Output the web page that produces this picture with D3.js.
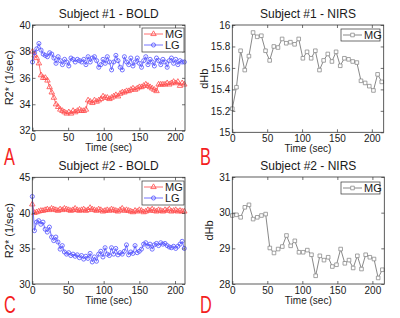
<!DOCTYPE html>
<html><head><meta charset="utf-8">
<script src="https://cdn.jsdelivr.net/npm/d3@7"></script>
<style>
body{margin:0;background:#fff}
svg{display:block}
text{font-family:"Liberation Sans",Arial,sans-serif;fill:#1a1a1a}
</style>
</head><body>
<svg id="c" width="400" height="318"></svg>
<script>
// ---------- data ----------
const xTicks = [0, 50, 100, 150, 200];
const yTicksA = [32, 34, 36, 38, 40];
const yTicksB = [15, 15.2, 15.4, 15.6, 15.8, 16];
const yTicksC = [30, 35, 40, 45];
const yTicksD = [28, 29, 30, 31];
const boldStep = 3;      // sec between BOLD samples
const nirsStep = 5.95;   // sec between NIRS samples

const s1MG = [38.0,37.7,37.5,37.1,36.2,36.0,36.0,35.8,35.3,34.9,34.5,34.0,33.8,33.6,33.5,33.4,33.3,33.4,33.3,33.5,33.4,33.5,33.6,33.5,33.5,33.6,34.3,34.2,34.1,34.3,34.2,34.3,34.4,34.6,34.5,34.5,34.4,34.5,34.6,34.7,34.6,34.8,34.9,34.9,35.0,35.0,35.1,35.2,35.1,35.2,35.3,35.3,35.4,35.5,35.4,35.3,35.2,35.1,35.0,35.5,35.5,35.5,35.5,35.6,35.5,35.6,35.7,35.6,35.7,35.4,35.6,35.5];
const s1LG = [37.2,37.9,38.2,38.6,38.1,37.8,37.7,37.6,37.9,37.8,37.5,37.1,37.6,37.3,37.0,37.4,37.2,36.9,37.5,37.4,37.2,37.4,37.3,37.2,37.4,37.0,37.6,37.2,37.5,37.6,37.3,36.8,37.0,37.4,37.1,37.6,37.2,36.6,37.2,37.7,37.3,36.8,36.6,37.6,37.2,37.0,37.5,36.9,37.2,37.5,37.1,36.8,37.3,37.6,37.0,37.4,37.2,36.9,37.5,37.3,37.0,37.4,37.2,36.8,37.3,37.5,37.1,37.4,37.0,37.3,37.2,37.2];
const s1NIRS = [15.22,15.42,15.76,15.58,15.71,15.93,15.89,15.90,15.76,15.67,15.80,15.79,15.87,15.83,15.84,15.82,15.87,15.69,15.75,15.69,15.76,15.58,15.67,15.73,15.66,15.75,15.62,15.69,15.68,15.66,15.65,15.48,15.46,15.43,15.39,15.54,15.47];
const s2MG = [41.2,40.0,40.1,40.2,40.3,40.3,40.4,40.5,40.4,40.6,40.5,40.4,40.3,40.5,40.4,40.6,40.5,40.4,40.3,40.4,40.6,40.4,40.3,40.4,40.5,40.3,40.4,40.7,40.5,40.4,40.3,40.5,40.4,40.2,40.3,40.4,40.3,40.5,40.4,40.3,40.2,40.4,40.6,40.3,40.4,40.3,40.2,40.1,40.3,40.2,40.4,40.3,40.1,40.2,40.4,40.3,40.5,40.3,40.2,40.4,40.3,40.2,40.4,40.3,40.5,40.2,40.3,40.4,40.2,40.3,40.2,40.2];
const s2LG = [42.3,37.5,38.7,38.9,38.4,38.7,37.7,37.3,38.0,36.6,36.1,36.6,35.9,34.9,35.4,34.5,34.2,34.4,34.0,34.2,33.9,34.1,33.7,34.0,33.5,33.9,33.6,34.3,33.1,33.8,33.2,34.2,34.6,33.8,35.1,34.2,34.0,35.1,34.2,35.0,34.1,34.4,34.2,34.6,35.5,34.1,34.5,34.3,35.4,34.4,34.6,34.9,35.6,35.8,35.3,35.6,34.9,35.5,35.7,35.4,35.8,35.6,35.7,35.4,35.2,35.1,35.3,35.0,35.3,35.6,36.0,35.0];
const s2NIRS = [29.92,29.94,29.87,30.15,30.22,29.82,29.87,29.92,29.96,29.01,28.87,28.98,29.05,29.36,29.07,29.21,28.89,28.89,28.95,28.82,28.23,28.79,28.67,28.75,28.49,28.54,28.98,28.58,28.67,28.45,28.79,28.42,28.82,28.75,28.70,28.17,28.40];

// ---------- styles ----------
const RED = "#ff4a4a", BLUE = "#5050ff", GRAY = "#6a6a6a", MGRAY = "#8c8c8c";

const svg = d3.select("#c");

function panel(o) {
  const x = d3.scaleLinear().domain(o.xDomain).range([o.x0, o.x1]);
  const y = d3.scaleLinear().domain(o.yDomain).range([o.y1, o.y0]);
  const g = svg.append("g");
  const fmt = d => String(+d.toFixed(1));

  // series
  o.series.forEach(s => {
    const pts = s.values.map((v, i) => [i * s.step, v]);
    g.append("path").datum(pts)
      .attr("fill", "none").attr("stroke", s.line).attr("stroke-width", 0.8)
      .attr("d", d3.line().x(d => x(d[0])).y(d => y(d[1])));
    const sym = d3.symbol().type(s.sym).size(s.size);
    g.selectAll(null).data(pts).enter().append("path")
      .attr("d", sym)
      .attr("transform", d => `translate(${x(d[0])},${y(d[1])})`)
      .attr("fill", s.fill).attr("stroke", s.mk).attr("stroke-width", 0.8);
  });

  // axes (inward ticks on all sides)
  const ax = g.append("g").attr("transform", `translate(0,${o.y1})`)
    .call(d3.axisBottom(x).tickValues(xTicks).tickSize(-3).tickPadding(3).tickFormat(fmt));
  const ay = g.append("g").attr("transform", `translate(${o.x0},0)`)
    .call(d3.axisLeft(y).tickValues(o.yTicks).tickSize(-3).tickPadding(2).tickFormat(fmt));
  const at = g.append("g").attr("transform", `translate(0,${o.y0})`)
    .call(d3.axisTop(x).tickValues(xTicks).tickSize(-3).tickFormat(""));
  const ar = g.append("g").attr("transform", `translate(${o.x1},0)`)
    .call(d3.axisRight(y).tickValues(o.yTicks).tickSize(-3).tickFormat(""));
  [ax, ay, at, ar].forEach(a => {
    a.select(".domain").remove();
    a.selectAll("line").attr("stroke", "#333").attr("stroke-width", 0.7);
    a.selectAll("text").attr("font-size", 10).attr("font-family", '"Liberation Sans",Arial,sans-serif').attr("fill", "#1a1a1a");
  });
  g.append("rect").attr("x", o.x0).attr("y", o.y0)
    .attr("width", o.x1 - o.x0).attr("height", o.y1 - o.y0)
    .attr("fill", "none").attr("stroke", "#333").attr("stroke-width", 0.8);

  // title and labels
  g.append("text").attr("x", (o.x0 + o.x1) / 2).attr("y", o.y0 - 7)
    .attr("text-anchor", "middle").attr("font-size", 12).text(o.title);
  g.append("text").attr("x", (o.x0 + o.x1) / 2).attr("y", o.y1 + 20)
    .attr("text-anchor", "middle").attr("font-size", 10).text("Time (sec)");
  g.append("text").attr("transform", `translate(${o.ylx},${(o.y0 + o.y1) / 2}) rotate(-90)`)
    .attr("text-anchor", "middle").attr("font-size", 11).text(o.ylabel);

  // legend
  const L = o.legend;
  g.append("rect").attr("x", L.x).attr("y", L.y).attr("width", L.w).attr("height", L.h)
    .attr("fill", "#fff").attr("stroke", "#333").attr("stroke-width", 0.7);
  o.series.forEach((s, i) => {
    const ly = L.y + 6 + i * 11;
    g.append("line").attr("x1", L.x + 2).attr("x2", L.x + 21).attr("y1", ly).attr("y2", ly)
      .attr("stroke", s.line).attr("stroke-width", 0.8);
    g.append("path").attr("d", d3.symbol().type(s.sym).size(s.size)())
      .attr("transform", `translate(${L.x + 11.5},${ly})`)
      .attr("fill", s.fill).attr("stroke", s.mk).attr("stroke-width", 0.8);
    g.append("text").attr("x", L.x + 23).attr("y", ly + 4)
      .attr("font-size", 11).text(s.name);
  });

  // panel letter
  svg.append("text").attr("transform", `translate(${o.letter[1]},${o.letter[2]}) scale(0.68,1)`)
    .attr("font-size", 24).style("fill", "#f41e1e").text(o.letter[0]);
}

const mg = (v, c) => ({name: "MG", values: v, step: boldStep, line: c, mk: c, fill: "none", sym: d3.symbolTriangle, size: 13});
const lg = (v, c) => ({name: "LG", values: v, step: boldStep, line: c, mk: c, fill: "none", sym: d3.symbolCircle, size: 13});
const nirs = v => ({name: "MG", values: v, step: nirsStep, line: GRAY, mk: MGRAY, fill: "#fff", sym: d3.symbolSquare, size: 13});

panel({x0: 32.5, x1: 185, y0: 25, y1: 130.7, xDomain: [0, 214], yDomain: [32, 40], yTicks: yTicksA,
  title: "Subject #1 - BOLD", ylabel: "R2* (1/sec)", ylx: 13,
  series: [mg(s1MG, RED), lg(s1LG, BLUE)], legend: {x: 142, y: 28, w: 42, h: 24}, letter: ["A", 4, 165]});
panel({x0: 232.3, x1: 383.7, y0: 25, y1: 132.3, xDomain: [0, 217], yDomain: [15, 16], yTicks: yTicksB,
  title: "Subject #1 - NIRS", ylabel: "dHb", ylx: 208,
  series: [nirs(s1NIRS)], legend: {x: 341, y: 29, w: 39, h: 12}, letter: ["B", 200, 165]});
panel({x0: 32.3, x1: 185, y0: 177.3, y1: 284, xDomain: [0, 214], yDomain: [30, 45], yTicks: yTicksC,
  title: "Subject #2 - BOLD", ylabel: "R2* (1/sec)", ylx: 13,
  series: [mg(s2MG, RED), lg(s2LG, BLUE)], legend: {x: 142, y: 181, w: 42, h: 24}, letter: ["C", 4, 313]});
panel({x0: 232.3, x1: 384.3, y0: 177, y1: 284, xDomain: [0, 217], yDomain: [28, 31], yTicks: yTicksD,
  title: "Subject #2 - NIRS", ylabel: "dHb", ylx: 213,
  series: [nirs(s2NIRS)], legend: {x: 341, y: 182, w: 39, h: 12}, letter: ["D", 200, 313]});
</script>
</body></html>
